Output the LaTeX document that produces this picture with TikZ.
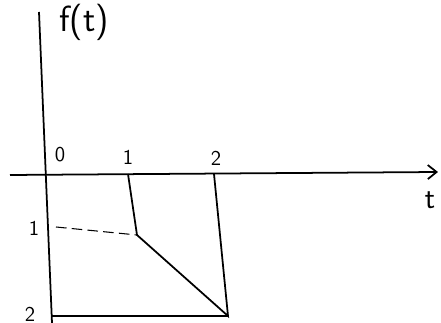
\documentclass[tikz,border=0pt]{standalone}
\usetikzlibrary{arrows.meta}

\begin{document}
\begin{tikzpicture}[
        x=0.02cm, y=-0.02cm,
        font=\sffamily,
        axis/.style={line width=1pt},
        curve/.style={line width=1pt},
        guide/.style={dashed, dash pattern=on 6pt off 3pt, line width=0.6pt},
        lbl/.style={font=\sffamily\large},
        bigLbl/.style={font=\sffamily\huge}
    ]
        \useasboundingbox (0,0) rectangle (441,323);

        % ========================================================
        % EJES
        % ========================================================
        \coordinate (yTop) at (39,12);
        \coordinate (yBot) at (52,323);
        \coordinate (tLeft) at (10,175);
        \coordinate (tRight) at (438,172);

        \draw[axis] (yTop) -- (yBot);
        \draw[axis, -{Straight Barb[length=5pt, width=8pt]}] (tLeft) -- (tRight);

        \node[bigLbl] (fLbl) at (84,22) {f(t)};
        \node[lbl, font=\sffamily\LARGE] (tLbl) at (430,200) {t};

        % ========================================================
        % MARCAS
        % ========================================================
        \node[lbl] (zero) at (60,155) {0};
        \node[lbl] (one) at (128,157) {1};
        \node[lbl] (two) at (216,158) {2};
        \node[lbl] (mOne) at (34,228) {1};
        \node[lbl] (mTwo) at (30,314) {2};

        % ========================================================
        % FUNCION
        % ========================================================
        \coordinate (p1) at (128,174);
        \coordinate (p2) at (214,174);
        \coordinate (pk) at (137,235);
        \coordinate (pEnd) at (228,316);
        \coordinate (g1) at (56,227);
        \coordinate (g2) at (52,316);

        \draw[curve] (p1) -- (pk) -- (pEnd) -- (p2);
        \draw[guide] (g1) -- (pk);
        \draw[line width=0.7pt] (g2) -- (pEnd);

    \end{tikzpicture}
\end{document}
